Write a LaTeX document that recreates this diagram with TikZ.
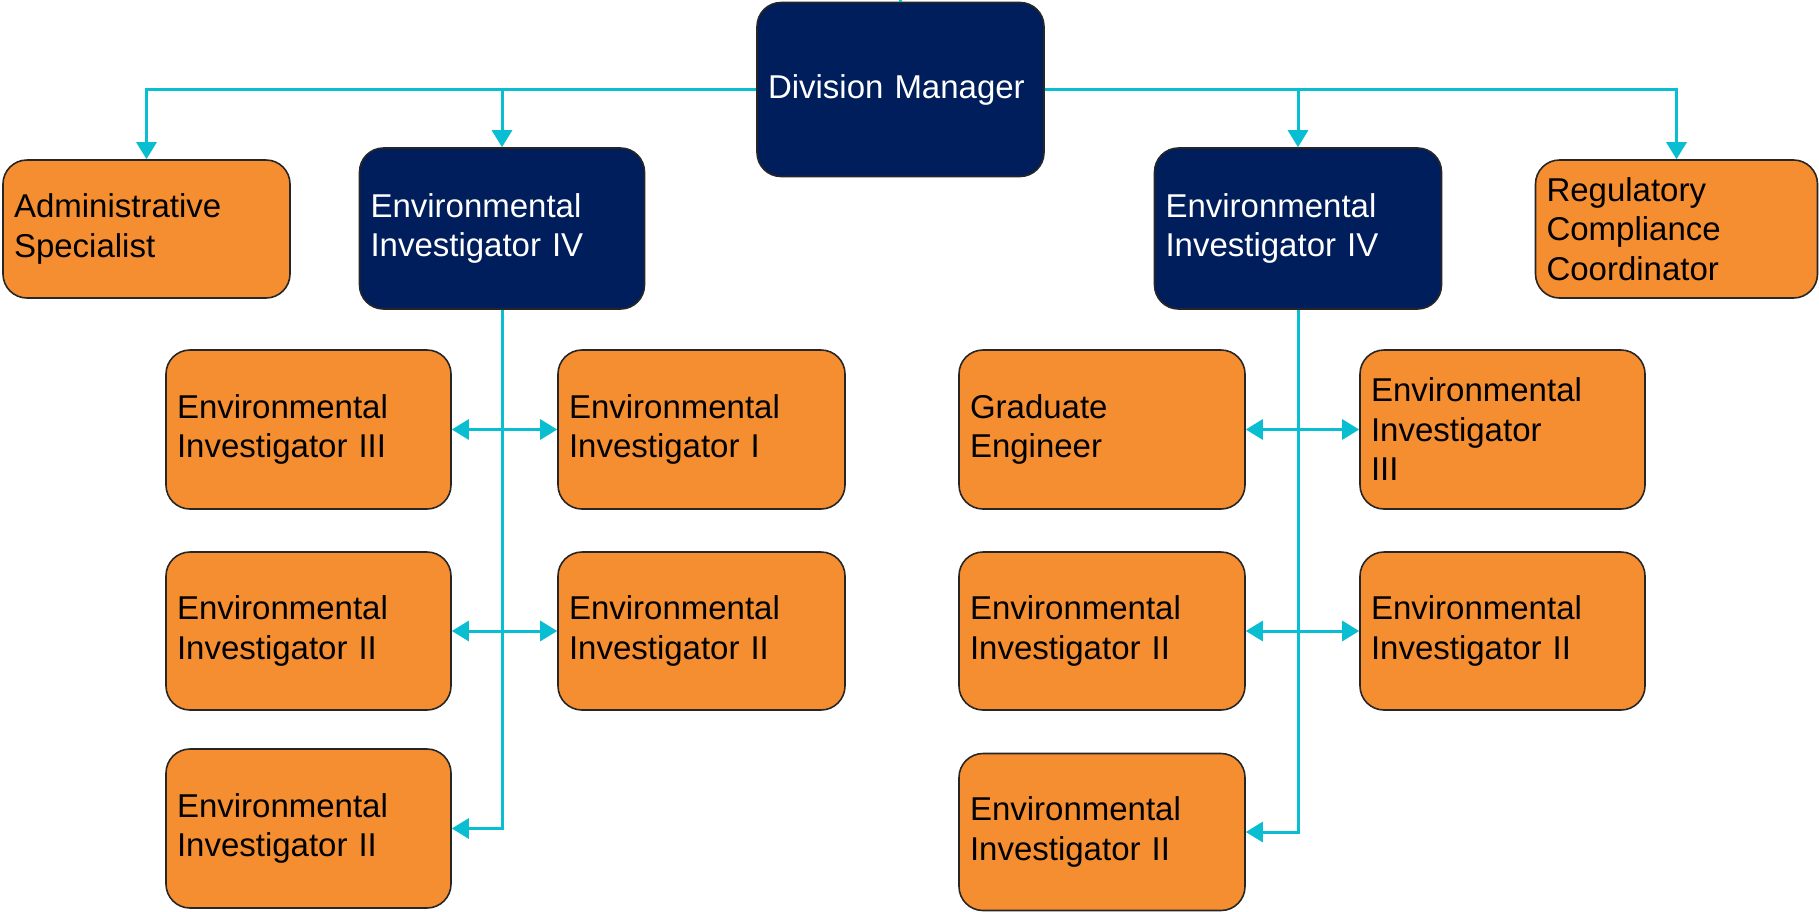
\documentclass[tikz,border=0pt]{standalone}
\usepackage{fontspec}
\setmainfont{Liberation Sans}
\usetikzlibrary{arrows.meta}
\definecolor{navy}{RGB}{1,30,92}
\definecolor{orng}{RGB}{245,142,49}
\definecolor{cyanline}{RGB}{10,190,210}
\begin{document}
\begin{tikzpicture}[x=1pt,y=-1pt,
  basebox/.style={rectangle, rounded corners=24pt, draw=black!85, line width=1.6pt,
    inner xsep=11pt, inner ysep=0pt, align=left,
    font=\fontsize{33}{39.5}\selectfont},
  obox/.style={basebox, fill=orng, text=black},
  nbox/.style={basebox, fill=navy, text=white},
  conn/.style={draw=cyanline, line width=3pt, -{Triangle[length=17pt,width=20pt]}},
  dconn/.style={draw=cyanline, line width=3pt, {Triangle[length=17pt,width=20pt]}-{Triangle[length=17pt,width=20pt]}},
  wbox/.style args={#1/#2}{minimum width=#1pt, text width=#1pt-22pt, minimum height=#2pt}
]
\useasboundingbox (0,0) rectangle (1819,911);

\node[nbox, wbox=287/174] (dm) at (900.5,89.5) {Division Manager};
\node[obox, wbox=287/138] (admin) at (146.5,229) {Administrative\\Specialist};
\node[nbox, wbox=285/161] (eiL) at (502,228.5) {Environmental\\Investigator IV};
\node[nbox, wbox=287/161] (eiR) at (1298,228.5) {Environmental\\Investigator IV};
\node[obox, wbox=282/138] (reg) at (1676.5,229) {Regulatory\\Compliance\\Coordinator};

\node[obox, wbox=285/159] (l11) at (308.5,429.5) {Environmental\\Investigator III};
\node[obox, wbox=287/159] (l12) at (701.5,429.5) {Environmental\\Investigator I};
\node[obox, wbox=285/158] (l21) at (308.5,631) {Environmental\\Investigator II};
\node[obox, wbox=287/158] (l22) at (701.5,631) {Environmental\\Investigator II};
\node[obox, wbox=285/159] (l31) at (308.5,828.5) {Environmental\\Investigator II};

\node[obox, wbox=286/159] (r11) at (1102,429.5) {Graduate\\Engineer};
\node[obox, wbox=285/159] (r12) at (1502.5,429.5) {Environmental\\Investigator\\III};
\node[obox, wbox=286/158] (r21) at (1102,631) {Environmental\\Investigator II};
\node[obox, wbox=285/158] (r22) at (1502.5,631) {Environmental\\Investigator II};
\node[obox, wbox=286/157] (r31) at (1102,832) {Environmental\\Investigator II};

\coordinate (topedge) at (900.5,0);
\draw[cyanline, line width=3pt] (dm.north) -- (topedge);

\draw[conn] (dm.west) -| (admin.north);
\draw[conn] (dm.west) -| (eiL.north);
\draw[conn] (dm.east) -| (eiR.north);
\draw[conn] (dm.east) -| (reg.north);

\draw[conn] (eiL.south) |- (l31.east);
\draw[dconn] (l11.east) -- (l12.west);
\draw[dconn] (l21.east) -- (l22.west);

\draw[conn] (eiR.south) |- (r31.east);
\draw[dconn] (r11.east) -- (r12.west);
\draw[dconn] (r21.east) -- (r22.west);
\end{tikzpicture}
\end{document}
